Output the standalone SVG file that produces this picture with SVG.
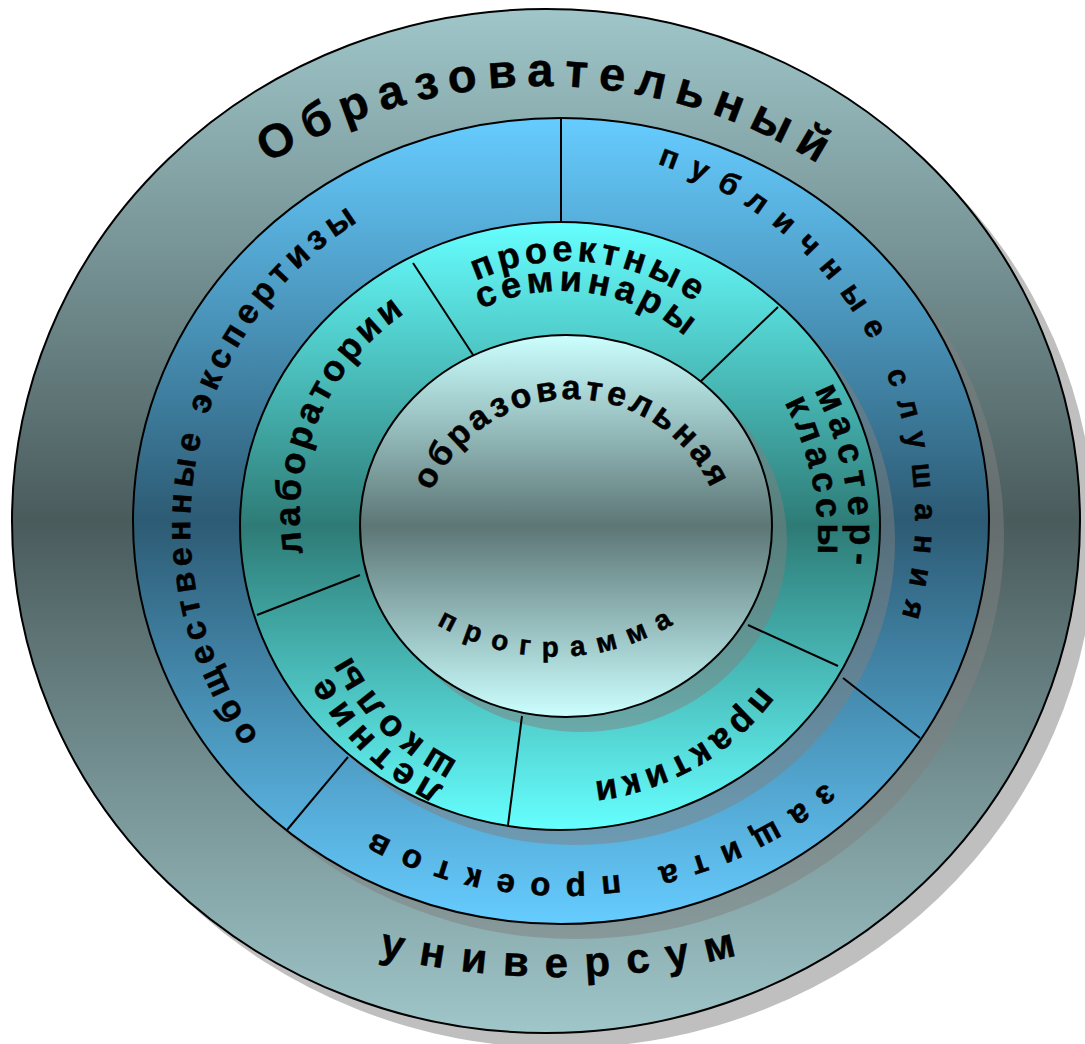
<svg xmlns="http://www.w3.org/2000/svg" width="1085" height="1044" viewBox="0 0 1085 1044">
<defs>
<linearGradient id="gOuter" x1="0" y1="0" x2="0" y2="1">
<stop offset="0" stop-color="#9fc6c9"/><stop offset="0.5" stop-color="#4a5b5c"/><stop offset="1" stop-color="#9fc6c9"/>
</linearGradient>
<linearGradient id="gBlue" x1="0" y1="0" x2="0" y2="1">
<stop offset="0" stop-color="#66ccff"/><stop offset="0.5" stop-color="#2d5b74"/><stop offset="1" stop-color="#66ccff"/>
</linearGradient>
<linearGradient id="gTeal" x1="0" y1="0" x2="0" y2="1">
<stop offset="0" stop-color="#66ffff"/><stop offset="0.5" stop-color="#2e7b76"/><stop offset="1" stop-color="#66ffff"/>
</linearGradient>
<linearGradient id="gCore" x1="0" y1="0" x2="0" y2="1">
<stop offset="0" stop-color="#ccffff"/><stop offset="0.5" stop-color="#5d7676"/><stop offset="1" stop-color="#ccffff"/>
</linearGradient>
<path id="p1" d="M170.4,240.4 A527,527 0 0 1 915.6,240.4"/>
<path id="p2" d="M299.4,931.4 A756,756 0 0 0 816.6,931.4"/>
<path id="p3" d="M585.7,148.5 A371.6,371.6 0 0 1 875.6,684.6"/>
<path id="p4" d="M292.3,776.3 A359,359 0 0 1 404.3,197.2"/>
<path id="p5" d="M881.9,725.1 A408,408 0 0 1 307,788"/>
<path id="p6" d="M317.4,604.6 A243,243 0 0 1 453.4,287.4"/>
<path id="p7" d="M427.8,310.9 A219,219 0 0 1 736.1,340.8"/>
<path id="p8" d="M447.1,330 A189,189 0 0 1 712,365.1"/>
<path id="p9" d="M725.9,282.1 A330,330 0 0 1 809.7,698"/>
<path id="p10" d="M702,304 A298,298 0 0 1 784,678.3"/>
<path id="p11" d="M792.5,625.1 A240,240 0 0 1 525.3,779.4"/>
<path id="p12" d="M525,812.7 A273,273 0 0 1 299.2,595.8"/>
<path id="p13" d="M526.5,783.6 A244,244 0 0 1 327,587.3"/>
<path id="p14" d="M423.9,514.3 A152.8,152.8 0 0 1 719.1,510.7"/>
<path id="p15" d="M390.5,588.5 A232.6,232.6 0 0 0 719.5,588.5"/>
</defs>
<style>
.ring{stroke:#000;stroke-width:2}
.sh{fill:#808080;fill-opacity:0.5;stroke:none}
.div{stroke:#000;stroke-width:2;fill:none}
text{font-family:"Liberation Sans",Arial,sans-serif;font-weight:bold;fill:#000;stroke:#000;stroke-width:0.5;text-anchor:middle}
</style>
<g id="outer-ring">
<ellipse class="sh" cx="561" cy="536" rx="534" ry="512"/>
<ellipse class="ring" cx="546" cy="521" rx="534" ry="512" fill="url(#gOuter)"/>
</g>
<g id="blue-ring">
<ellipse class="sh" cx="576" cy="536" rx="428" ry="403"/>
<ellipse class="ring" cx="561" cy="521" rx="428" ry="403" fill="url(#gBlue)"/>
<ellipse class="sh" cx="575" cy="541" rx="320" ry="304"/>
</g>
<g id="teal-ring">
<ellipse class="ring" cx="560" cy="526" rx="320" ry="304" fill="url(#gTeal)"/>
<ellipse class="sh" cx="581" cy="541" rx="206" ry="191"/>
</g>
<g id="connectors">
<line class="div" x1="561" y1="118" x2="561" y2="222"/>
<line class="div" x1="920" y1="738" x2="843" y2="678"/>
<line class="div" x1="287" y1="830" x2="348" y2="757"/>
<line class="div" x1="413" y1="263" x2="479" y2="364"/>
<line class="div" x1="778" y1="307" x2="697" y2="385"/>
<line class="div" x1="748" y1="625" x2="838" y2="666"/>
<line class="div" x1="522" y1="716" x2="508" y2="825"/>
<line class="div" x1="257" y1="615" x2="360" y2="575"/>
</g>
<g id="core">
<ellipse class="ring" cx="566" cy="526" rx="206" ry="191" fill="url(#gCore)"/>
</g>
<g id="label-outer">
<text font-size="47" letter-spacing="10.5"><textPath href="#p1" startOffset="419">Образовательный</textPath></text>
<text font-size="42" letter-spacing="17"><textPath href="#p2" startOffset="272.4">универсум</textPath></text>
</g>
<g id="label-blue">
<text font-size="31" letter-spacing="13.7"><textPath href="#p3" startOffset="364">публичные слушания</textPath></text>
<text font-size="34" letter-spacing="5.8"><textPath href="#p4" startOffset="348.5">общественные экспертизы</textPath></text>
<text font-size="33" letter-spacing="14.6"><textPath href="#p5" startOffset="328.5">защита проектов</textPath></text>
</g>
<g id="label-teal">
<text font-size="36" letter-spacing="4"><textPath href="#p6" startOffset="192.9">лаборатории</textPath></text>
<text font-size="36" letter-spacing="4.5"><textPath href="#p7" startOffset="174.3">проектные</textPath></text>
<text font-size="36" letter-spacing="5"><textPath href="#p8" startOffset="150.9">семинары</textPath></text>
<text font-size="36" letter-spacing="7"><textPath href="#p9" startOffset="233.9">мастер-</textPath></text>
<text font-size="36" letter-spacing="5"><textPath href="#p10" startOffset="210.5">классы</textPath></text>
<text font-size="36" letter-spacing="5"><textPath href="#p11" startOffset="170.1">практики</textPath></text>
<text font-size="37" letter-spacing="7"><textPath href="#p12" startOffset="170.3">летние</textPath></text>
<text font-size="37" letter-spacing="7"><textPath href="#p13" startOffset="152.6">школы</textPath></text>
</g>
<g id="label-core">
<text font-size="34" letter-spacing="4"><textPath href="#p14" startOffset="202">образовательная</textPath></text>
<text font-size="28" letter-spacing="12"><textPath href="#p15" startOffset="188.7">программа</textPath></text>
</g>
</svg>
